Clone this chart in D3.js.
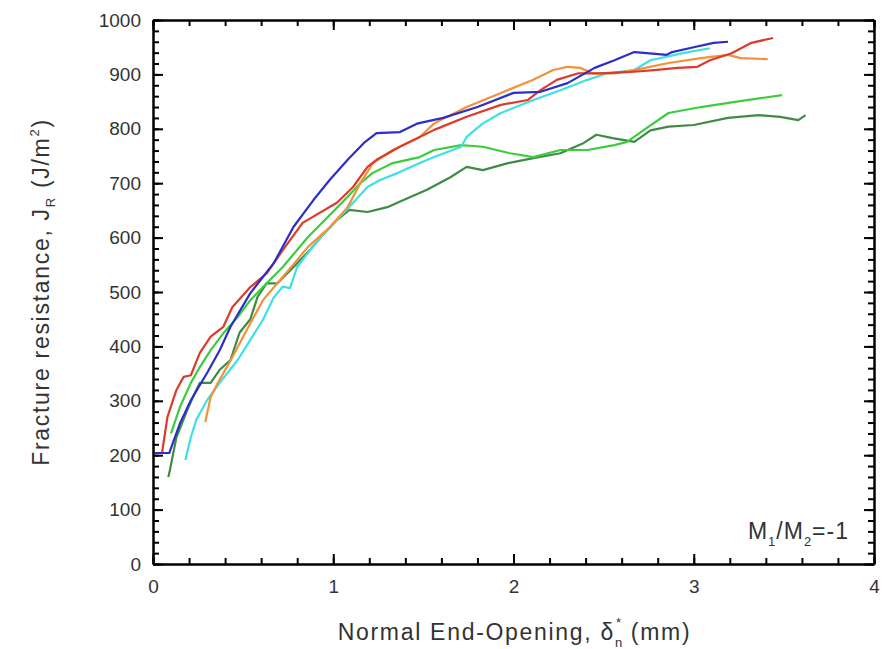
<!DOCTYPE html>
<html>
<head>
<meta charset="utf-8">
<script src="https://cdn.jsdelivr.net/npm/d3@7"></script>
<style>
  body{margin:0;background:#fff;}
  svg text{font-family:"Liberation Sans",Arial,sans-serif;fill:#333;}
</style>
</head>
<body>
<svg id="chart" width="884" height="649"></svg>
<script>
// curves: [opening (mm), J_R (J/m2)]
const blue=[[0.01,204],[0.09,204],[0.15,259],[0.21,301],[0.30,351],[0.37,393],[0.43,436],[0.54,498],[0.67,553],[0.78,620],[0.89,669],[0.98,706],[1.08,743],[1.17,774],[1.24,792],[1.37,794],[1.47,810],[1.61,820],[1.80,840],[2.0,866],[2.15,868],[2.3,884],[2.45,912],[2.56,926],[2.67,941],[2.74,939],[2.85,936],[2.88,941],[3.0,950],[3.11,958],[3.19,960]];
const red=[[0.02,204],[0.05,204],[0.08,270],[0.13,320],[0.17,344],[0.21,347],[0.26,388],[0.32,418],[0.39,436],[0.44,472],[0.54,509],[0.63,534],[0.72,577],[0.83,627],[1.02,664],[1.11,693],[1.19,730],[1.24,743],[1.37,767],[1.56,798],[1.74,822],[1.93,844],[2.08,853],[2.15,871],[2.24,890],[2.36,902],[2.48,902],[2.63,904],[2.78,908],[2.91,912],[3.02,914],[3.09,926],[3.21,939],[3.32,958],[3.44,967]];
const orange=[[0.29,261],[0.32,307],[0.36,333],[0.44,380],[0.52,430],[0.61,485],[0.69,516],[0.80,559],[0.86,583],[0.98,619],[1.08,656],[1.15,700],[1.22,737],[1.33,761],[1.48,785],[1.56,810],[1.74,840],[1.93,866],[2.11,890],[2.22,908],[2.30,914],[2.37,912],[2.44,902],[2.56,902],[2.67,908],[2.86,921],[3.04,930],[3.19,936],[3.26,930],[3.41,928]];
const cyan=[[0.18,191],[0.21,233],[0.24,265],[0.30,301],[0.37,333],[0.47,375],[0.54,412],[0.61,449],[0.67,490],[0.72,510],[0.76,507],[0.80,546],[0.86,572],[0.93,601],[1.02,632],[1.11,664],[1.19,693],[1.26,706],[1.36,719],[1.48,737],[1.56,748],[1.71,767],[1.74,785],[1.83,810],[1.93,829],[2.11,853],[2.26,871],[2.41,890],[2.52,902],[2.67,908],[2.76,926],[2.94,939],[3.09,948]];
const green=[[0.10,240],[0.15,289],[0.21,333],[0.26,362],[0.32,393],[0.39,424],[0.47,454],[0.54,485],[0.63,516],[0.72,546],[0.86,601],[0.97,638],[1.08,675],[1.15,700],[1.22,719],[1.33,737],[1.48,748],[1.56,761],[1.71,770],[1.83,767],[1.98,755],[2.11,748],[2.26,761],[2.41,761],[2.56,770],[2.63,776],[2.72,797],[2.86,829],[3.04,840],[3.22,849],[3.49,862]];
const darkGreen=[[0.085,160],[0.094,173],[0.13,233],[0.19,283],[0.24,320],[0.26,333],[0.32,333],[0.37,357],[0.43,375],[0.48,425],[0.54,450],[0.58,491],[0.63,516],[0.69,516],[0.78,546],[0.87,577],[0.95,608],[1.02,632],[1.09,651],[1.19,647],[1.30,656],[1.39,669],[1.52,688],[1.65,711],[1.74,730],[1.83,724],[1.97,737],[2.11,746],[2.26,755],[2.39,774],[2.46,789],[2.55,783],[2.67,776],[2.76,797],[2.86,804],[3.0,807],[3.19,820],[3.36,825],[3.48,822],[3.58,816],[3.62,825]];

const series=[
  {data:darkGreen,color:"#3f8a45"},
  {data:green,color:"#3ccc3c"},
  {data:cyan,color:"#3ee0e4"},
  {data:orange,color:"#f2913a"},
  {data:red,color:"#dc3b2c"},
  {data:blue,color:"#2b2fc8"}
];
const xTicks=[0,1,2,3,4];
const yTicks=[0,100,200,300,400,500,600,700,800,900,1000];
const xMinor=d3.range(0,4.001,0.2);
const yMinor=d3.range(0,1000.1,20);

const svg=d3.select("#chart");
const m={top:20,right:10,bottom:85,left:153};
const W=884,H=649;
const x=d3.scaleLinear().domain([0,4]).range([m.left,W-m.right]);
const y=d3.scaleLinear().domain([0,1000]).range([H-m.bottom,m.top]);

const line=d3.line().x(d=>x(d[0])).y(d=>y(d[1]));
svg.append("g").selectAll("path")
  .data(series)
  .enter().append("path")
  .attr("d",d=>line(d.data))
  .attr("fill","none")
  .attr("stroke",d=>d.color)
  .attr("stroke-width",2.2)
  .attr("stroke-linejoin","round");

// inward ticks: axes facing into the plot, placed on the frame edges
function tickAxis(g){
  g.select(".domain").attr("stroke","#000").attr("stroke-width",2);
  g.selectAll(".tick line").attr("stroke","#000").attr("stroke-width",2);
}
const inX=(gen,y0,vals,size)=>svg.append("g").attr("transform",`translate(0,${y0})`)
  .call(gen(x).tickValues(vals).tickSize(size).tickSizeOuter(0).tickFormat("")).call(tickAxis);
const inY=(gen,x0,vals,size)=>svg.append("g").attr("transform",`translate(${x0},0)`)
  .call(gen(y).tickValues(vals).tickSize(size).tickSizeOuter(0).tickFormat("")).call(tickAxis);
inX(d3.axisTop,y(0),xMinor,6);    inX(d3.axisTop,y(0),xTicks,10);
inX(d3.axisBottom,y(1000),xMinor,6); inX(d3.axisBottom,y(1000),xTicks,10);
inY(d3.axisRight,x(0),yMinor,6);  inY(d3.axisRight,x(0),yTicks,10);
inY(d3.axisLeft,x(4),yMinor,6);   inY(d3.axisLeft,x(4),yTicks,10);

// tick labels
function styleAxis(g){
  g.select(".domain").remove();
  g.selectAll(".tick line").remove();
  g.selectAll(".tick text").attr("font-size","19px").attr("fill","#333")
    .attr("font-family","Liberation Sans, Arial, sans-serif");
}
svg.append("g").attr("transform",`translate(0,${y(0)})`)
  .call(d3.axisBottom(x).tickValues(xTicks).tickSize(0).tickPadding(16).tickFormat(d3.format("d")))
  .call(styleAxis);
svg.append("g").attr("transform",`translate(${x(0)},0)`)
  .call(d3.axisLeft(y).tickValues(yTicks).tickSize(0).tickPadding(12).tickFormat(d3.format("d")))
  .call(styleAxis);

// axis titles
const xt=svg.append("text")
  .attr("x",(x(0)+x(4))/2+1).attr("y",640)
  .attr("text-anchor","middle").attr("font-size","23px").attr("letter-spacing","1.7px");
xt.append("tspan").text("Normal End-Opening, δ");
xt.append("tspan").attr("font-size","13px").attr("dy",7).text("n");
xt.append("tspan").attr("font-size","13px").attr("dx",-8).attr("dy",-20).text("*");
xt.append("tspan").attr("dy",13).text(" (mm)");

const yt=svg.append("text")
  .attr("transform",`translate(49,${(y(0)+y(1000))/2}) rotate(-90)`)
  .attr("text-anchor","middle").attr("font-size","23px").attr("letter-spacing","1.7px");
yt.append("tspan").text("Fracture resistance, J");
yt.append("tspan").attr("font-size","13px").attr("dy",6).text("R");
yt.append("tspan").attr("dy",-6).text(" (J/m");
yt.append("tspan").attr("font-size","13px").attr("dy",-10).text("2");
yt.append("tspan").attr("dy",10).text(")");

const an=svg.append("text").attr("x",849).attr("y",539)
  .attr("text-anchor","end").attr("font-size","23px").attr("letter-spacing","1px");
an.append("tspan").text("M");
an.append("tspan").attr("font-size","13px").attr("dy",7).text("1");
an.append("tspan").attr("dy",-7).text("/M");
an.append("tspan").attr("font-size","13px").attr("dy",7).text("2");
an.append("tspan").attr("dy",-7).text("=-1");
</script>
</body>
</html>
